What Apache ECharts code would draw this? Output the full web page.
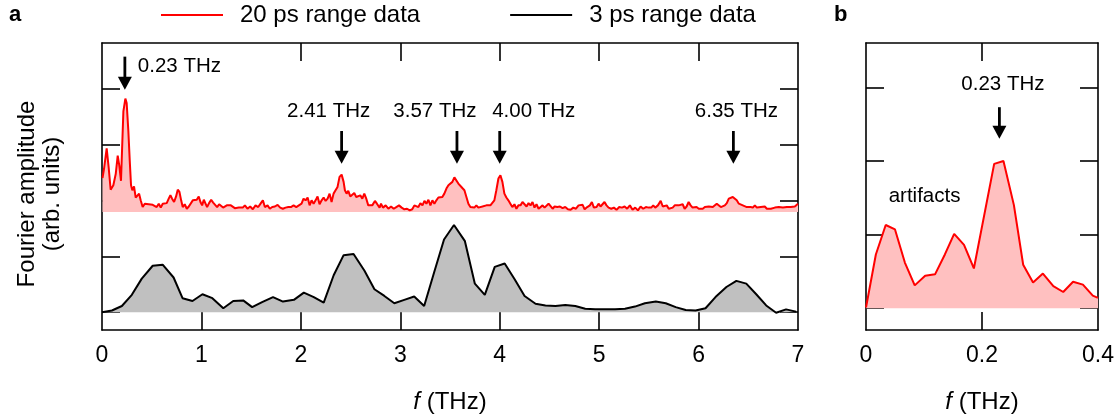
<!DOCTYPE html>
<html>
<head>
<meta charset="utf-8">
<script src="https://cdn.jsdelivr.net/npm/echarts@6/dist/echarts.min.js"></script>
<style>
html,body{margin:0;padding:0;background:#fff;}
#c{width:1120px;height:419px;}
</style>
</head>
<body>
<div id="c"></div>
<script>
// ---------------- DATA ----------------
const seriesNames = ['20 ps range data', '3 ps range data'];

// 20 ps range data (panel a), plotted with vertical offset as in the figure
const redFreq = [0.005,0.020,0.047,0.067,0.087,0.114,0.138,0.158,0.174,0.191,0.215,0.235,0.248,0.265,0.279,0.292,0.305,0.322,0.339,0.356,0.373,0.389,0.409,0.430,0.450,0.470,0.490,0.510,0.530,0.550,0.571,0.591,0.611,0.631,0.651,0.671,0.688,0.705,0.725,0.745,0.762,0.779,0.796,0.812,0.832,0.853,0.873,0.893,0.913,0.933,0.953,0.973,0.990,1.007,1.024,1.040,1.057,1.077,1.098,1.118,1.138,1.158,1.178,1.198,1.218,1.235,1.255,1.275,1.296,1.316,1.336,1.356,1.376,1.396,1.416,1.437,1.463,1.490,1.517,1.544,1.571,1.598,1.618,1.638,1.665,1.688,1.712,1.739,1.766,1.792,1.819,1.846,1.873,1.900,1.927,1.954,1.980,2.007,2.027,2.048,2.068,2.088,2.108,2.128,2.148,2.168,2.188,2.209,2.229,2.249,2.269,2.289,2.309,2.329,2.349,2.369,2.389,2.410,2.430,2.443,2.460,2.477,2.497,2.517,2.537,2.557,2.577,2.598,2.618,2.638,2.658,2.678,2.698,2.718,2.745,2.765,2.792,2.806,2.826,2.853,2.880,2.907,2.934,2.960,2.987,3.014,3.041,3.068,3.095,3.120,3.142,3.162,3.182,3.202,3.223,3.243,3.263,3.283,3.303,3.323,3.343,3.363,3.383,3.403,3.423,3.443,3.464,3.484,3.504,3.524,3.544,3.564,3.584,3.604,3.624,3.645,3.665,3.685,3.705,3.725,3.745,3.765,3.785,3.805,3.826,3.846,3.866,3.886,3.906,3.926,3.946,3.966,3.987,4.007,4.027,4.047,4.067,4.087,4.107,4.127,4.148,4.168,4.188,4.209,4.229,4.249,4.270,4.290,4.310,4.330,4.350,4.370,4.391,4.411,4.431,4.451,4.471,4.491,4.511,4.532,4.552,4.579,4.606,4.632,4.659,4.686,4.713,4.740,4.767,4.793,4.813,4.834,4.854,4.880,4.907,4.927,4.947,4.974,4.994,5.014,5.034,5.054,5.074,5.095,5.122,5.148,5.175,5.202,5.229,5.256,5.282,5.309,5.336,5.363,5.390,5.417,5.443,5.470,5.497,5.524,5.544,5.564,5.591,5.619,5.640,5.660,5.680,5.700,5.720,5.740,5.760,5.780,5.800,5.820,5.840,5.860,5.880,5.900,5.920,5.940,5.960,5.980,6.002,6.022,6.042,6.063,6.083,6.103,6.123,6.143,6.163,6.183,6.203,6.224,6.244,6.264,6.284,6.304,6.324,6.344,6.364,6.384,6.405,6.425,6.445,6.465,6.485,6.505,6.525,6.546,6.566,6.586,6.606,6.626,6.646,6.666,6.687,6.707,6.727,6.747,6.767,6.787,6.807,6.827,6.848,6.868,6.888,6.908,6.928,6.948,6.968,6.988,7.000];
const redAmp = [2.40,2.56,2.93,2.59,2.19,2.27,2.47,2.80,2.62,2.35,3.59,3.82,3.74,3.24,2.71,2.27,2.18,2.25,2.05,2.07,2.12,2.00,1.88,1.94,1.95,1.93,1.95,1.92,1.94,1.88,1.94,1.87,1.94,1.93,1.95,2.03,2.09,2.03,1.97,2.07,2.19,2.15,2.00,1.88,1.93,1.85,1.89,1.88,2.00,1.99,2.01,2.07,1.97,1.91,2.01,1.99,1.88,1.95,2.01,1.96,1.93,1.88,1.93,1.91,1.87,1.84,1.91,1.88,1.91,1.88,1.86,1.89,1.87,1.90,1.87,1.91,1.85,1.89,1.84,1.91,1.88,1.95,2.00,1.88,1.91,1.85,1.88,1.89,1.92,1.87,1.85,1.87,1.88,1.88,1.91,1.88,1.91,1.94,2.03,2.00,2.05,1.91,2.00,1.94,2.00,2.07,1.93,2.00,2.05,1.99,2.03,2.12,1.97,2.12,2.18,2.24,2.42,2.46,2.33,2.18,2.12,2.17,2.07,2.05,2.13,2.06,2.03,2.09,2.03,2.12,2.03,1.91,1.88,1.91,1.99,1.94,1.87,1.94,1.87,1.91,1.85,1.89,1.85,1.88,1.91,1.87,1.84,1.85,1.82,1.84,1.91,1.93,1.88,1.95,1.91,1.99,1.94,2.01,1.91,2.00,1.94,2.00,2.05,2.02,2.06,2.12,2.21,2.27,2.27,2.33,2.41,2.39,2.30,2.27,2.22,2.18,2.06,1.94,1.88,1.91,1.87,1.91,1.87,1.88,1.89,1.87,1.91,1.88,1.91,1.91,2.00,2.18,2.39,2.45,2.33,2.12,2.05,2.00,1.94,1.88,1.93,1.85,1.91,1.91,1.97,2.00,1.89,1.95,1.91,1.97,1.87,1.93,1.85,1.88,1.91,1.87,1.88,1.94,1.91,1.85,1.89,1.88,1.89,1.86,1.88,1.84,1.83,1.87,1.85,1.91,1.88,1.92,1.84,1.88,1.91,1.97,1.87,1.88,1.94,1.89,1.88,1.97,1.91,1.87,1.85,1.87,1.83,1.88,1.87,1.89,1.85,1.91,1.83,1.87,1.82,1.89,1.85,1.88,1.87,1.87,1.91,1.87,1.91,1.99,1.89,1.87,1.91,1.85,1.88,1.87,1.91,1.94,1.91,1.88,1.93,1.85,1.89,1.97,1.91,1.87,1.85,1.88,1.85,1.87,1.85,1.88,1.87,1.89,1.91,1.88,1.85,1.94,1.97,1.88,1.87,1.91,1.95,2.03,2.05,2.06,2.03,2.00,1.94,1.97,1.91,1.94,1.88,1.91,1.88,1.87,1.91,1.87,1.85,1.88,1.85,1.89,1.85,1.84,1.85,1.84,1.87,1.84,1.88,1.85,1.87,1.85,1.88,1.87,1.88,1.87,1.89,1.91,1.94];
const redBaseline = 1.79;

// 3 ps range data (panel a)
const blackFreq = [0,0.10,0.20,0.30,0.40,0.51,0.61,0.72,0.81,0.91,1.01,1.11,1.22,1.32,1.42,1.51,1.61,1.72,1.82,1.93,2.03,2.13,2.23,2.33,2.43,2.53,2.64,2.74,2.84,2.94,3.04,3.14,3.24,3.34,3.44,3.54,3.65,3.75,3.85,3.95,4.05,4.15,4.25,4.36,4.46,4.56,4.66,4.76,4.86,4.96,5.06,5.16,5.26,5.36,5.46,5.57,5.67,5.77,5.87,5.97,6.07,6.17,6.28,6.38,6.48,6.58,6.68,6.78,6.88,6.98];
const blackAmp = [0,0.03,0.11,0.31,0.60,0.83,0.85,0.62,0.25,0.20,0.32,0.25,0.07,0.20,0.21,0.09,0.18,0.27,0.19,0.22,0.35,0.27,0.17,0.66,1.02,1.04,0.74,0.41,0.29,0.16,0.22,0.28,0.11,0.71,1.30,1.56,1.27,0.51,0.31,0.81,0.87,0.59,0.29,0.15,0.12,0.11,0.13,0.11,0.06,0.05,0.05,0.05,0.06,0.10,0.16,0.19,0.16,0.09,0.04,0.03,0.07,0.27,0.45,0.56,0.51,0.32,0.12,-0.01,0.05,0.01];

// 20 ps range data, low-frequency zoom (panel b)
const zoomFreq = [0.000,0.017,0.034,0.050,0.067,0.084,0.102,0.119,0.136,0.152,0.169,0.186,0.221,0.237,0.255,0.271,0.288,0.305,0.323,0.340,0.357,0.374,0.391,0.400];
const zoomAmp = [0.01,0.73,1.13,1.07,0.62,0.31,0.44,0.46,0.73,1.01,0.86,0.54,1.96,2.00,1.40,0.59,0.35,0.47,0.30,0.22,0.36,0.32,0.17,0.14];

// axis tick labels
const xTicksA = [0,1,2,3,4,5,6,7];
const xTicksB = [0,0.2,0.4];

// annotations
const peaksA = [0.23, 2.41, 3.57, 4.00, 6.35];
const peakLabelsA = ['0.23 THz','2.41 THz','3.57 THz','4.00 THz','6.35 THz'];
const peaksB = [0.23];
const peakLabelsB = ['0.23 THz'];
const noteB = 'artifacts';

// ---------------- LAYOUT / STYLE ----------------
const FONT = '"Liberation Sans", Arial, Helvetica, sans-serif';
const zip = (a,b) => a.map((v,i) => [v, b[i]]);

const axisLineStyle = {color:'#000', width:1.6};
function frameAxisX(gridIndex, pos, min, max, interval, tickVals, showLabel){
  return {
    type:'value', gridIndex, position:pos, min, max, interval,
    axisLine:{show:true, onZero:false, lineStyle:axisLineStyle},
    axisTick:{show:true, inside:true, length:18, customValues:tickVals, lineStyle:{color:'#000', width:1.6}},
    axisLabel:{show:showLabel, color:'#000', fontSize:23, fontFamily:FONT, margin:14,
      customValues: showLabel ? (gridIndex===0 ? xTicksA : xTicksB) : undefined},
    splitLine:{show:false}
  };
}
function frameAxisY(gridIndex, pos, min, max, tickVals){
  return {
    type:'value', gridIndex, position:pos, min, max,
    axisLine:{show:true, onZero:false, lineStyle:axisLineStyle},
    axisTick:{show:true, inside:true, length:18, customValues:tickVals, lineStyle:{color:'#000', width:1.6}},
    axisLabel:{show:false},
    splitLine:{show:false}
  };
}

const nameStyle = {color:'#000', fontSize:24, fontFamily:FONT, rich:{i:{fontStyle:'italic', fontSize:24, fontFamily:FONT, color:'#000'}}};
const xA = frameAxisX(0,'bottom',0,7,1,[1,2,3,4,5,6],true);
Object.assign(xA, {name:'{i|f} (THz)', nameLocation:'middle', nameGap:60, nameTextStyle:nameStyle});
const xB = frameAxisX(1,'bottom',0,0.4,0.2,[0.2],true);
Object.assign(xB, {name:'{i|f} (THz)', nameLocation:'middle', nameGap:60, nameTextStyle:nameStyle});

const option = {
  animation:false,
  backgroundColor:'#fff',
  legend:{
    left:161, top:3, padding:0, itemWidth:62, itemHeight:2, itemGap:90, icon:'rect',
    textStyle:{color:'#000', fontSize:24, fontFamily:FONT, padding:[0,0,0,12]},
    data:[{name:seriesNames[0]},{name:seriesNames[1]}]
  },
  grid:[
    {left:102, right:322, top:43, bottom:86},
    {left:866, right:22, top:43, bottom:86}
  ],
  xAxis:[
    xA,
    frameAxisX(0,'top',0,7,1,[2,3,4,5,6],false),
    xB,
    frameAxisX(1,'top',0,0.4,0.2,[0.2],false)
  ],
  yAxis:[
    frameAxisY(0,'left',-0.319,4.814,[0,1,2,3,4]),
    frameAxisY(0,'right',-0.319,4.814,[0,1,2,3,4]),
    frameAxisY(1,'left',-0.296,3.602,[0,1,2,3]),
    frameAxisY(1,'right',-0.296,3.602,[0,1,2,3])
  ],
  series:[
    {name:seriesNames[1], type:'line', xAxisIndex:0, yAxisIndex:0, data:zip(blackFreq, blackAmp),
     symbol:'none', lineStyle:{color:'#000', width:2}, itemStyle:{color:'#000'},
     areaStyle:{color:'#c0c0c0', opacity:1, origin:0}, z:2},
    {name:seriesNames[0], type:'line', xAxisIndex:0, yAxisIndex:0, data:zip(redFreq, redAmp),
     symbol:'none', lineStyle:{color:'#ff0000', width:2}, itemStyle:{color:'#ff0000'},
     areaStyle:{color:'#ffc0c0', opacity:1, origin:redBaseline}, z:3},
    {name:seriesNames[0], type:'line', xAxisIndex:2, yAxisIndex:2, data:zip(zoomFreq, zoomAmp),
     symbol:'none', lineStyle:{color:'#ff0000', width:2}, itemStyle:{color:'#ff0000'},
     areaStyle:{color:'#ffc0c0', opacity:1, origin:0}, z:3}
  ]
};

const chart = echarts.init(document.getElementById('c'), null, {renderer:'canvas'});
chart.setOption(option);

// ---------------- ANNOTATIONS ----------------
const arrowA0 = {top:4.57, tip:3.98};           // first arrow, panel a
const arrowA = {top:3.24, tip:2.655};           // other arrows, panel a
const labelYA0 = 4.395, labelYA = 3.59;
const labelDxA = [13, -13, -22, 34, 3];        // pixel offsets of labels from arrows
const arrowB = {top:2.73, tip:2.30};
const labelYB = 3.04, labelDxB = [3.5];
const noteBPos = [0.101, 1.515];
const ANN_SIZE = 20.5;

function px(grid, x, y){
  const q = grid === 0 ? {xAxisIndex:0, yAxisIndex:0} : {xAxisIndex:2, yAxisIndex:2};
  return chart.convertToPixel(q, [x, y]);
}
function arrow(grid, x, top, tip){
  const p1 = px(grid, x, top), p2 = px(grid, x, tip);
  const hx = 7, hl = 13;
  return [
    {type:'line', shape:{x1:p1[0], y1:p1[1], x2:p2[0], y2:p2[1]-hl+2}, style:{stroke:'#000', lineWidth:2.8}, z:100},
    {type:'polygon', shape:{points:[[p2[0]-hx, p2[1]-hl],[p2[0]+hx, p2[1]-hl],[p2[0], p2[1]]]}, style:{fill:'#000'}, z:100}
  ];
}
function text(x, y, str, font, align){
  return {type:'text', z:100, style:{x, y, text:str, fill:'#000', font:font,
    textAlign:align, align:align, textVerticalAlign:'middle', verticalAlign:'middle'}};
}

const g = [];
peaksA.forEach((f, i) => {
  const a = i === 0 ? arrowA0 : arrowA;
  g.push(...arrow(0, f, a.top, a.tip));
  const p = px(0, f, i === 0 ? labelYA0 : labelYA);
  g.push(text(p[0] + labelDxA[i], p[1], peakLabelsA[i], ANN_SIZE+'px '+FONT, i === 0 ? 'left' : 'center'));
});
peaksB.forEach((f, i) => {
  g.push(...arrow(1, f, arrowB.top, arrowB.tip));
  const p = px(1, f, labelYB);
  g.push(text(p[0] + labelDxB[i], p[1], peakLabelsB[i], ANN_SIZE+'px '+FONT, 'center'));
});
{
  const p = px(1, noteBPos[0], noteBPos[1]);
  g.push(text(p[0], p[1], noteB, '20.5px '+FONT, 'center'));
}
// panel letters
g.push(text(9, 15, 'a', 'bold 22px '+FONT, 'left'));
g.push(text(834, 15, 'b', 'bold 22px '+FONT, 'left'));
// y-axis title
g.push({type:'text', z:100, rotation:Math.PI/2, x:40, y:194,
  style:{x:0, y:0, text:'Fourier amplitude\n(arb. units)', fill:'#000', font:'24px '+FONT,
    lineHeight:25, textAlign:'center', align:'center', textVerticalAlign:'middle', verticalAlign:'middle'}});

chart.setOption({graphic:{elements:g}});
</script>
</body>
</html>
